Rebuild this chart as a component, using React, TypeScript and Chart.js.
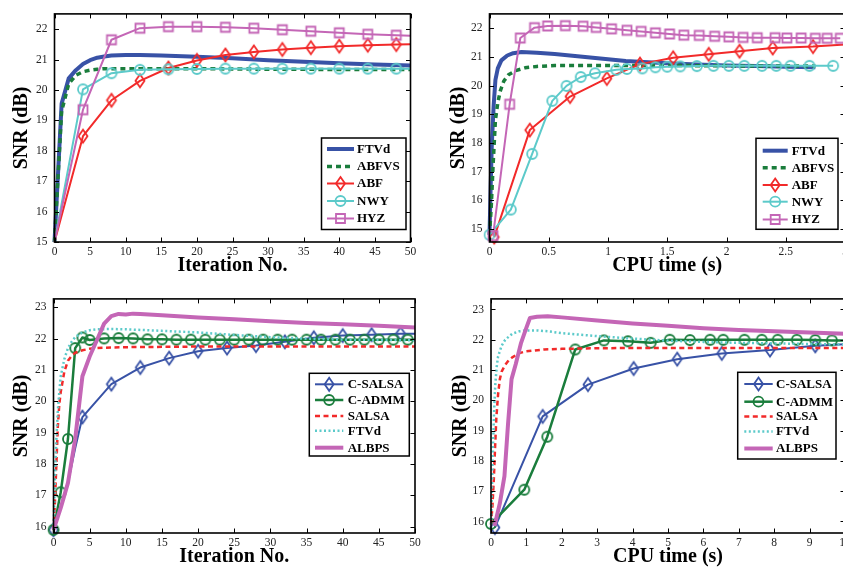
import React, { useEffect, useRef } from "react";
import { Chart, registerables } from "chart.js";

Chart.register(...registerables);

const SERIF = "'Liberation Serif', 'Times New Roman', serif";

// ---------- tick labels ----------
const iterTicks = [0, 5, 10, 15, 20, 25, 30, 35, 40, 45, 50];
const cpuTicksTop = [0, 0.5, 1, 1.5, 2, 2.5, 3];
const cpuTicksBottom = [0, 1, 2, 3, 4, 5, 6, 7, 8, 9, 10];
const snrTicksTop = [15, 16, 17, 18, 19, 20, 21, 22];
const snrTicksBottom = [16, 17, 18, 19, 20, 21, 22, 23];

// ---------- panel A : SNR vs iterations ----------
const aDenseIter = [0, 1, 2, 3, 4, 5, 6, 7, 8, 10, 12, 15, 20, 25, 30, 35, 40, 45, 50];
const aFTVd = [15, 19.55, 20.38, 20.65, 20.85, 20.98, 21.06, 21.1, 21.13, 21.15, 21.15, 21.13, 21.09, 21.04, 20.98, 20.93, 20.88, 20.84, 20.8];
const aABFVS = [15, 19.3, 20.2, 20.48, 20.6, 20.65, 20.68, 20.7, 20.7, 20.7, 20.7, 20.7, 20.7, 20.69, 20.68, 20.68, 20.67, 20.67, 20.67];
const aMarkIter = [0, 4, 8, 12, 16, 20, 24, 28, 32, 36, 40, 44, 48, 50];
const aABF = [15, 18.48, 19.66, 20.3, 20.72, 20.97, 21.15, 21.25, 21.33, 21.39, 21.44, 21.47, 21.49, 21.5];
const aNWY = [15, 20.02, 20.55, 20.66, 20.68, 20.69, 20.7, 20.7, 20.7, 20.7, 20.7, 20.7, 20.7, 20.7];
const aHYZ = [15, 19.35, 21.65, 22.03, 22.08, 22.08, 22.06, 22.03, 21.98, 21.93, 21.88, 21.83, 21.8, 21.78];

// ---------- panel B : SNR vs CPU time ----------
const bFTVdT = [0, 0.01, 0.02, 0.035, 0.05, 0.07, 0.1, 0.15, 0.2, 0.27, 0.4, 0.55, 0.7, 0.85, 1.0, 1.15, 1.3, 1.5, 1.75, 2.0, 2.25, 2.5, 2.75];
const bFTVd = [14.8, 16.5, 18.0, 19.3, 20.2, 20.6, 20.88, 21.05, 21.13, 21.17, 21.15, 21.1, 21.04, 20.98, 20.92, 20.86, 20.82, 20.78, 20.74, 20.7, 20.68, 20.66, 20.64];
const bABFVST = [0, 0.015, 0.03, 0.05, 0.07, 0.09, 0.12, 0.16, 0.22, 0.3, 0.4, 0.55, 0.8, 1.2, 1.6, 2.0, 2.4, 2.75];
const bABFVS = [14.8, 15.8, 17.2, 18.8, 19.4, 19.8, 20.15, 20.38, 20.52, 20.62, 20.67, 20.7, 20.7, 20.7, 20.7, 20.69, 20.68, 20.68];
const bABFT = [0.04, 0.34, 0.68, 0.99, 1.27, 1.55, 1.85, 2.11, 2.39, 2.73, 3.0];
const bABF = [14.72, 18.45, 19.62, 20.25, 20.75, 20.97, 21.09, 21.2, 21.31, 21.36, 21.43];
const bNWYT = [0, 0.18, 0.36, 0.53, 0.65, 0.77, 0.89, 1.07, 1.16, 1.29, 1.4, 1.5, 1.61, 1.75, 1.89, 2.02, 2.15, 2.3, 2.42, 2.54, 2.7, 2.9];
const bNWY = [14.8, 15.68, 17.62, 19.47, 19.99, 20.3, 20.43, 20.55, 20.58, 20.6, 20.64, 20.66, 20.67, 20.68, 20.69, 20.69, 20.69, 20.69, 20.69, 20.69, 20.69, 20.69];
const bHYZT = [0.03, 0.17, 0.26, 0.38, 0.49, 0.64, 0.79, 0.9, 1.03, 1.16, 1.28, 1.4, 1.52, 1.64, 1.77, 1.9, 2.02, 2.14, 2.26, 2.41, 2.51, 2.63, 2.75, 2.85, 2.96];
const bHYZ = [14.77, 19.35, 21.66, 22.02, 22.08, 22.09, 22.07, 22.03, 21.98, 21.93, 21.89, 21.84, 21.8, 21.76, 21.75, 21.72, 21.7, 21.68, 21.67, 21.67, 21.66, 21.66, 21.65, 21.65, 21.65];

// ---------- panel C : SNR vs iterations ----------
const cSALSAIter = [0, 1, 2, 3, 4, 8, 12, 16, 20, 24, 28, 32, 36, 40, 44, 48, 50];
const cCSALSA = [15.9, 16.6, 17.4, 18.5, 19.5, 20.55, 21.08, 21.38, 21.6, 21.7, 21.78, 21.9, 22.03, 22.1, 22.13, 22.16, 22.16];
const cADMMIter = [0, 1, 2, 3, 4, 5, 7, 9, 11, 13, 15, 17, 19, 21, 23, 25, 27, 29, 31, 33, 35, 37, 39, 41, 43, 45, 47, 49, 50];
const cCADMM = [15.9, 17.1, 18.8, 21.7, 22.04, 21.96, 22.01, 22.02, 22.01, 21.98, 21.98, 21.97, 21.97, 21.97, 21.97, 21.97, 21.97, 21.97, 21.97, 21.97, 21.97, 21.97, 21.97, 21.97, 21.97, 21.97, 21.97, 21.97, 21.97];
const cSALSAx = [0, 0.2, 0.4, 0.6, 0.8, 1, 1.5, 2, 2.5, 3, 4, 5, 6, 8, 10, 15, 20, 30, 40, 50];
const cSALSA = [15.9, 16.8, 18.0, 19.2, 19.9, 20.3, 20.95, 21.3, 21.45, 21.55, 21.63, 21.68, 21.7, 21.72, 21.73, 21.74, 21.75, 21.75, 21.75, 21.75];
const cFTVdx = [0, 0.2, 0.4, 0.6, 0.8, 1, 1.5, 2, 2.5, 3, 4, 5, 6, 8, 10, 12, 15, 20, 25, 30, 35, 40, 45, 50];
const cFTVd = [15.9, 17.5, 18.8, 19.7, 20.3, 20.8, 21.35, 21.7, 21.9, 22.05, 22.2, 22.27, 22.3, 22.31, 22.3, 22.28, 22.25, 22.2, 22.12, 22.05, 22.0, 21.97, 21.96, 21.95];
const cALBPSx = [0, 1, 2, 3, 4, 5, 6, 7, 8, 9, 10, 11, 12, 15, 20, 25, 30, 35, 40, 45, 50];
const cALBPS = [15.9, 16.6, 17.4, 18.8, 20.8, 21.43, 21.95, 22.48, 22.72, 22.79, 22.77, 22.8, 22.79, 22.75, 22.68, 22.62, 22.56, 22.5, 22.46, 22.41, 22.36];

// ---------- panel D : SNR vs CPU time ----------
const dCSALSAT = [0.11, 1.46, 2.74, 4.03, 5.26, 6.52, 7.88, 9.16, 10];
const dCSALSA = [15.8, 19.47, 20.52, 21.05, 21.36, 21.55, 21.66, 21.8, 21.85];
const dCADMMT = [0, 0.94, 1.59, 2.38, 3.19, 3.87, 4.51, 5.05, 5.62, 6.19, 6.56, 7.16, 7.65, 8.1, 8.64, 9.16, 9.63, 10];
const dCADMM = [15.92, 17.05, 18.8, 21.68, 21.98, 21.95, 21.9, 22.0, 21.99, 22.0, 22.0, 22.0, 22.0, 22.0, 22.0, 21.99, 21.98, 21.98];
const dSALSAT = [0, 0.04, 0.08, 0.11, 0.15, 0.2, 0.25, 0.3, 0.4, 0.5, 0.6, 0.8, 1, 1.5, 2, 3, 4, 6, 8, 10];
const dSALSA = [15.9, 16.5, 17.4, 18.3, 19.4, 20.2, 20.7, 20.95, 21.17, 21.32, 21.42, 21.56, 21.62, 21.68, 21.7, 21.72, 21.73, 21.73, 21.73, 21.73];
const dFTVdT = [0, 0.03, 0.06, 0.09, 0.12, 0.16, 0.2, 0.3, 0.4, 0.6, 0.8, 1.0, 1.3, 1.6, 2, 3, 4, 5, 6, 7, 8, 9, 10];
const dFTVd = [15.9, 17.2, 18.6, 19.7, 20.5, 21.1, 21.45, 21.8, 22.0, 22.2, 22.28, 22.31, 22.31, 22.28, 22.22, 22.12, 22.04, 21.97, 21.93, 21.9, 21.88, 21.86, 21.84];
const dALBPST = [0.1, 0.25, 0.38, 0.48, 0.58, 0.7, 0.85, 1.0, 1.1, 1.3, 1.6, 2, 3, 4, 5, 6, 7, 8, 9, 10];
const dALBPS = [15.85, 16.6, 17.5, 19.2, 20.7, 21.2, 21.9, 22.4, 22.72, 22.76, 22.78, 22.74, 22.64, 22.54, 22.46, 22.38, 22.32, 22.28, 22.24, 22.2];

// ---------- styles ----------
type MarkerKind = "diamond" | "circle" | "square" | null;
interface SeriesDef {
  label: string;
  x: number[];
  y: number[];
  color: string;
  width: number;
  dash?: number[];
  marker?: MarkerKind;
  hideAt?: number[]; // x values without marker
}
interface PanelDef {
  key: string;
  canvas: { left: number; top: number; w: number; h: number };
  area: { left: number; top: number; right: number; bottom: number };
  xMin: number; xMax: number; xTicks: number[];
  yMin: number; yMax: number; yTicks: number[];
  xTitle: string;
  yTitleCx: number;
  xTitleCy: number;
  legend: { left: number; top: number; right: number; bottom: number; rows: number[]; s1: number; s2: number; tx: number };
  series: SeriesDef[];
}

const BLUE = "#3852a6";
const GREEN = "#1a7d3c";
const RED = "#f22a2a";
const CYAN = "#5ccaca";
const MAGENTA = "#c466b6";

const panels: PanelDef[] = [
  {
    key: "a",
    canvas: { left: 0, top: 0, w: 421, h: 284 },
    area: { left: 54.5, top: 8, right: 410.5, bottom: 242 },
    xMin: 0, xMax: 50, xTicks: iterTicks,
    yMin: 15, yMax: 22.5, yTicks: snrTicksTop,
    xTitle: "Iteration No.", yTitleCx: 22, xTitleCy: 266,
    legend: { left: 321.5, top: 138, right: 406, bottom: 229.5, rows: [149, 166.5, 183.5, 201, 218.5], s1: 327, s2: 354, tx: 357 },
    series: [
      { label: "FTVd", x: aDenseIter, y: aFTVd, color: BLUE, width: 4 },
      { label: "ABFVS", x: aDenseIter, y: aABFVS, color: GREEN, width: 3.5, dash: [5, 4] },
      { label: "ABF", x: aMarkIter, y: aABF, color: RED, width: 2, marker: "diamond", hideAt: [0, 50] },
      { label: "NWY", x: aMarkIter, y: aNWY, color: CYAN, width: 2, marker: "circle", hideAt: [0, 50] },
      { label: "HYZ", x: aMarkIter, y: aHYZ, color: MAGENTA, width: 2, marker: "square", hideAt: [0, 50] },
    ],
  },
  {
    key: "b",
    canvas: { left: 421, top: 0, w: 440, h: 284 },
    area: { left: 489.5, top: 8, right: 845, bottom: 242 },
    xMin: 0, xMax: 3, xTicks: cpuTicksTop,
    yMin: 14.55, yMax: 22.5, yTicks: snrTicksTop,
    xTitle: "CPU time (s)", yTitleCx: 459, xTitleCy: 266,
    legend: { left: 756, top: 138.3, right: 838, bottom: 229.3, rows: [150.7, 167.7, 185, 201.7, 219.5], s1: 762.7, s2: 787.7, tx: 791.7 },
    series: [
      { label: "FTVd", x: bFTVdT, y: bFTVd, color: BLUE, width: 4 },
      { label: "ABFVS", x: bABFVST, y: bABFVS, color: GREEN, width: 3.5, dash: [5, 4] },
      { label: "ABF", x: bABFT, y: bABF, color: RED, width: 2, marker: "diamond", hideAt: [3.0] },
      { label: "NWY", x: bNWYT, y: bNWY, color: CYAN, width: 2, marker: "circle" },
      { label: "HYZ", x: bHYZT, y: bHYZ, color: MAGENTA, width: 2, marker: "square" },
    ],
  },
  {
    key: "c",
    canvas: { left: 0, top: 285, w: 430, h: 284 },
    area: { left: 53.5, top: 296, right: 415, bottom: 533 },
    xMin: 0, xMax: 50, xTicks: iterTicks,
    yMin: 15.8, yMax: 23.27, yTicks: snrTicksBottom,
    xTitle: "Iteration No.", yTitleCx: 22, xTitleCy: 557,
    legend: { left: 309.3, top: 373.3, right: 409.3, bottom: 456, rows: [384.3, 400, 416, 430.7, 447.7], s1: 315, s2: 343.3, tx: 347.7 },
    series: [
      { label: "C-SALSA", x: cSALSAIter, y: cCSALSA, color: BLUE, width: 2, marker: "diamond", hideAt: [1, 2, 3, 50] },
      { label: "C-ADMM", x: cADMMIter, y: cCADMM, color: GREEN, width: 2.5, marker: "circle", hideAt: [50] },
      { label: "SALSA", x: cSALSAx, y: cSALSA, color: RED, width: 2.5, dash: [5, 3.5] },
      { label: "FTVd", x: cFTVdx, y: cFTVd, color: CYAN, width: 2.5, dash: [2, 2.5] },
      { label: "ALBPS", x: cALBPSx, y: cALBPS, color: MAGENTA, width: 4 },
    ],
  },
  {
    key: "d",
    canvas: { left: 421, top: 285, w: 440, h: 284 },
    area: { left: 491, top: 295.5, right: 845, bottom: 533 },
    xMin: 0, xMax: 10, xTicks: cpuTicksBottom,
    yMin: 15.62, yMax: 23.35, yTicks: snrTicksBottom,
    xTitle: "CPU time (s)", yTitleCx: 461, xTitleCy: 557,
    legend: { left: 737.7, top: 372.3, right: 836, bottom: 459, rows: [384, 401.7, 416.5, 431.5, 448.5], s1: 744.3, s2: 772.7, tx: 776 },
    series: [
      { label: "C-SALSA", x: dCSALSAT, y: dCSALSA, color: BLUE, width: 2, marker: "diamond", hideAt: [10] },
      { label: "C-ADMM", x: dCADMMT, y: dCADMM, color: GREEN, width: 2.5, marker: "circle", hideAt: [10] },
      { label: "SALSA", x: dSALSAT, y: dSALSA, color: RED, width: 2.5, dash: [5, 3.5] },
      { label: "FTVd", x: dFTVdT, y: dFTVd, color: CYAN, width: 2.5, dash: [2, 2.5] },
      { label: "ALBPS", x: dALBPST, y: dALBPS, color: MAGENTA, width: 4 },
    ],
  },
];

function traceMarker(ctx: CanvasRenderingContext2D, kind: MarkerKind, x: number, y: number) {
  ctx.beginPath();
  if (kind === "diamond") {
    ctx.moveTo(x, y - 6.5);
    ctx.lineTo(x + 4.5, y);
    ctx.lineTo(x, y + 6.5);
    ctx.lineTo(x - 4.5, y);
    ctx.closePath();
  } else if (kind === "circle") {
    ctx.arc(x, y, 5, 0, Math.PI * 2);
  } else if (kind === "square") {
    ctx.rect(x - 4.5, y - 4.5, 9, 9);
  }
}

function markerImage(kind: MarkerKind, color: string) {
  const c = document.createElement("canvas");
  c.width = 18;
  c.height = 18;
  const g = c.getContext("2d")!;
  g.strokeStyle = color;
  g.lineWidth = 1.8;
  traceMarker(g, kind, 9, 9);
  g.stroke();
  return c;
}

function PanelChart({ p }: { p: PanelDef }) {
  const ref = useRef<HTMLCanvasElement | null>(null);
  useEffect(() => {
    if (!ref.current) return;
    const { canvas, area } = p;
    const n = p.series.length;
    const datasets = p.series.map((s, i) => {
      const img = s.marker ? markerImage(s.marker, s.color) : null;
      const hide = s.hideAt || [];
      return {
        label: s.label,
        data: s.x.map((xv, j) => ({ x: xv, y: s.y[j] })),
        borderColor: s.color,
        backgroundColor: s.color,
        borderWidth: s.width,
        borderDash: s.dash || [],
        borderCapStyle: "butt",
        borderJoinStyle: "round",
        tension: 0,
        fill: false,
        pointStyle: img || "circle",
        pointRadius: (ctx: any) => (img && !hide.includes(s.x[ctx.dataIndex]) ? 5 : 0),
        pointHoverRadius: 0,
        order: n - i,
        clip: 6,
      };
    });

    const xAxisH = canvas.top + canvas.h - area.bottom;
    const yAxisW = area.left - canvas.left;
    const titleLH = 24;

    const framePlugin = {
      id: "frameLegend",
      afterDraw(chart: any) {
        const ctx: CanvasRenderingContext2D = chart.ctx;
        const ca = chart.chartArea;
        const xs = chart.scales.x;
        const ys = chart.scales.y;
        ctx.save();
        // inward ticks
        ctx.strokeStyle = "#000";
        ctx.lineWidth = 1;
        ctx.setLineDash([]);
        const tl = 4.5;
        ctx.beginPath();
        p.xTicks.forEach((v) => {
          const px = Math.round(xs.getPixelForValue(v)) + 0.5;
          ctx.moveTo(px, ca.bottom);
          ctx.lineTo(px, ca.bottom - tl);
          ctx.moveTo(px, ca.top);
          ctx.lineTo(px, ca.top + tl);
        });
        p.yTicks.forEach((v) => {
          const py = Math.round(ys.getPixelForValue(v)) + 0.5;
          ctx.moveTo(ca.left, py);
          ctx.lineTo(ca.left + tl, py);
          ctx.moveTo(ca.right, py);
          ctx.lineTo(ca.right - tl, py);
        });
        ctx.stroke();
        // frame
        ctx.lineWidth = 1.6;
        ctx.strokeRect(ca.left, ca.top, ca.right - ca.left, ca.bottom - ca.top);

        // legend
        const L = p.legend;
        const ox = canvas.left;
        const oy = canvas.top;
        ctx.fillStyle = "#fff";
        ctx.fillRect(L.left - ox, L.top - oy, L.right - L.left, L.bottom - L.top);
        ctx.lineWidth = 1.5;
        ctx.strokeStyle = "#000";
        ctx.strokeRect(L.left - ox, L.top - oy, L.right - L.left, L.bottom - L.top);
        p.series.forEach((s, i) => {
          const ry = L.rows[i] - oy;
          ctx.strokeStyle = s.color;
          ctx.lineWidth = s.width;
          ctx.setLineDash(s.dash || []);
          ctx.lineCap = "butt";
          ctx.beginPath();
          ctx.moveTo(L.s1 - ox, ry);
          ctx.lineTo(L.s2 - ox, ry);
          ctx.stroke();
          ctx.setLineDash([]);
          if (s.marker) {
            ctx.lineWidth = 1.8;
            traceMarker(ctx, s.marker, (L.s1 + L.s2) / 2 - ox, ry);
            ctx.stroke();
          }
          ctx.fillStyle = "#000";
          ctx.font = `bold 13px ${SERIF}`;
          ctx.textBaseline = "middle";
          ctx.textAlign = "left";
          ctx.fillText(s.label, L.tx - ox, ry + 0.5);
        });
        ctx.restore();
      },
    };

    const tickFont = { family: SERIF, size: 11.5 };
    const titleFont = { family: SERIF, size: 20, weight: "bold" as const, lineHeight: 1.2 };

    const chart = new Chart(ref.current, {
      type: "line",
      data: { datasets: datasets as any },
      options: {
        animation: false,
        responsive: false,
        maintainAspectRatio: false,
        devicePixelRatio: 1,
        events: [],
        layout: {
          padding: {
            left: 0,
            top: area.top - canvas.top,
            right: canvas.left + canvas.w - area.right,
            bottom: 0,
          },
        },
        plugins: { legend: { display: false }, tooltip: { enabled: false } },
        scales: {
          x: {
            type: "linear",
            min: p.xMin,
            max: p.xMax,
            afterBuildTicks: (s: any) => {
              s.ticks = p.xTicks.map((v) => ({ value: v }));
            },
            afterFit: (s: any) => {
              s.height = xAxisH;
            },
            grid: { display: false, drawTicks: false },
            border: { display: false },
            ticks: {
              autoSkip: false,
              maxRotation: 0,
              padding: 3,
              color: "#222",
              font: tickFont,
              callback: (v: any) => String(v),
            },
            title: {
              display: true,
              text: p.xTitle,
              color: "#000",
              font: titleFont,
              padding: { top: 0, bottom: canvas.top + canvas.h - titleLH / 2 - p.xTitleCy },
            },
          },
          y: {
            type: "linear",
            min: p.yMin,
            max: p.yMax,
            afterBuildTicks: (s: any) => {
              s.ticks = p.yTicks.map((v) => ({ value: v }));
            },
            afterFit: (s: any) => {
              s.width = yAxisW;
            },
            grid: { display: false, drawTicks: false },
            border: { display: false },
            ticks: {
              autoSkip: false,
              padding: 7,
              color: "#222",
              font: tickFont,
              callback: (v: any) => String(v),
            },
            title: {
              display: true,
              text: "SNR (dB)",
              color: "#000",
              font: titleFont,
              padding: { top: p.yTitleCx - canvas.left - titleLH / 2, bottom: 0 },
            },
          },
        },
      } as any,
      plugins: [framePlugin],
    });
    return () => chart.destroy();
  }, [p]);

  return (
    <canvas
      ref={ref}
      width={p.canvas.w}
      height={p.canvas.h}
      style={{
        position: "absolute",
        left: p.canvas.left,
        top: p.canvas.top,
        width: p.canvas.w,
        height: p.canvas.h,
      }}
    />
  );
}

export default function App() {
  return (
    <div
      style={{
        position: "fixed",
        left: 0,
        top: 0,
        width: 843,
        height: 569,
        overflow: "hidden",
        background: "#fff",
      }}
    >
      {panels.map((p) => (
        <PanelChart key={p.key} p={p} />
      ))}
    </div>
  );
}
